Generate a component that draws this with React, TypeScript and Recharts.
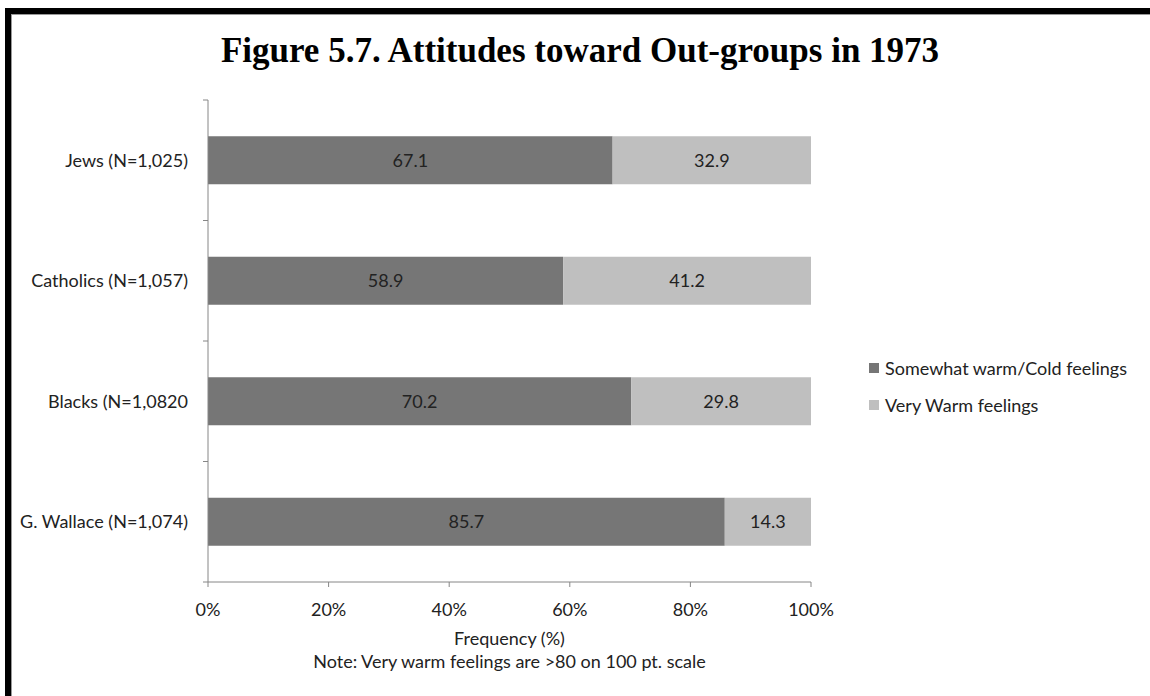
import React from "react";
import { Bar, BarChart, LabelList, XAxis, YAxis } from "recharts";

// values (percent of respondents)
const groups = ["Jews (N=1,025)", "Catholics (N=1,057)", "Blacks (N=1,0820", "G. Wallace (N=1,074)"];
const coldWarm = [67.1, 58.9, 70.2, 85.7];
const veryWarm = [32.9, 41.2, 29.8, 14.3];
const xTicks = [0, 20, 40, 60, 80, 100];

const seriesNames = ["Somewhat warm/Cold feelings", "Very Warm feelings"];
const colors = ["#767676", "#bfbfbf"];

const rows = groups.map((g, i) => ({ group: g, cold: coldWarm[i], warm: veryWarm[i] }));

const font = "Lato, 'Open Sans', sans-serif";
const axisGray = "#868686";
const fs = 18;

const W = 1150;
const H = 696;
const margin = { top: 100, right: 339, bottom: 54, left: 8 };
const xAxisH = 60;
const yTickSize = 6;
const yTickMargin = 14;
const bandH = (H - margin.top - margin.bottom - xAxisH) / groups.length;

// category label plus Excel-style tick marks on the band boundaries
function CatTick(props: any) {
  const { x, y, payload, index } = props;
  const ax = x + yTickSize + yTickMargin;
  return (
    <g>
      <line x1={ax - 5} x2={ax} y1={y - bandH / 2} y2={y - bandH / 2} stroke={axisGray} />
      {index === groups.length - 1 && (
        <line x1={ax - 5} x2={ax} y1={y + bandH / 2} y2={y + bandH / 2} stroke={axisGray} />
      )}
      <text x={x} y={y} dy="0.35em" textAnchor="end" fill="#222" fontSize={fs} fontFamily={font}>
        {payload.value}
      </text>
    </g>
  );
}

function LegendBox() {
  return (
    <div style={{ position: "absolute", left: 869, top: 349, fontFamily: font, fontSize: fs, color: "#222" }}>
      {seriesNames.map((n, i) => (
        <div key={n} style={{ display: "flex", alignItems: "center", height: 37 }}>
          <span style={{ width: 10, height: 10, background: colors[i], marginRight: 6, display: "inline-block" }} />
          {n}
        </div>
      ))}
    </div>
  );
}

function AxisTitle(props: any) {
  const { viewBox } = props;
  const cx = viewBox.x + viewBox.width / 2;
  const y = viewBox.y;
  return (
    <g fontFamily={font} fontSize={fs} fill="#222" textAnchor="middle">
      <text x={cx} y={y + 63}>Frequency (%)</text>
      <text x={cx} y={y + 86}>Note: Very warm feelings are &gt;80 on 100 pt. scale</text>
    </g>
  );
}

export default function App() {
  return (
    <div style={{ position: "fixed", left: 0, top: 0, width: W, height: H, overflow: "hidden", background: "#fff" }}>
      <div
        style={{
          position: "absolute",
          left: 5,
          top: 8,
          width: 1300,
          height: 800,
          border: "6px solid #000",
          boxShadow: "inset 0 0 0 1px #999",
        }}
      />
      <div
        style={{
          position: "absolute",
          left: 0,
          width: 1160,
          top: 31,
          textAlign: "center",
          fontFamily: "'Liberation Serif', 'Times New Roman', serif",
          fontWeight: "bold",
          fontSize: 35,
          color: "#000",
          lineHeight: "40px",
        }}
      >
        Figure 5.7. Attitudes toward Out-groups in 1973
      </div>
      <BarChart
        width={W}
        height={H}
        data={rows}
        layout="vertical"
        barCategoryGap="30%"
        margin={margin}
        style={{ position: "absolute", left: 0, top: 0 }}
      >
        <XAxis
          type="number"
          domain={[0, 100]}
          allowDataOverflow
          ticks={xTicks}
          tickFormatter={(v) => `${v}%`}
          interval={0}
          height={xAxisH}
          stroke={axisGray}
          tickSize={5}
          tickMargin={16}
          tick={{ fill: "#222", fontSize: fs, fontFamily: font }}
          label={<AxisTitle />}
        />
        <YAxis
          type="category"
          dataKey="group"
          width={200}
          stroke={axisGray}
          tickLine={false}
          tickSize={yTickSize}
          tickMargin={yTickMargin}
          interval={0}
          tick={<CatTick />}
        />
        <Bar dataKey="cold" name={seriesNames[0]} stackId="a" fill={colors[0]} isAnimationActive={false}>
          <LabelList dataKey="cold" position="center" fill="#222" fontSize={fs} fontFamily={font} />
        </Bar>
        <Bar dataKey="warm" name={seriesNames[1]} stackId="a" fill={colors[1]} isAnimationActive={false}>
          <LabelList dataKey="warm" position="center" fill="#222" fontSize={fs} fontFamily={font} />
        </Bar>
      </BarChart>
      <LegendBox />
    </div>
  );
}
